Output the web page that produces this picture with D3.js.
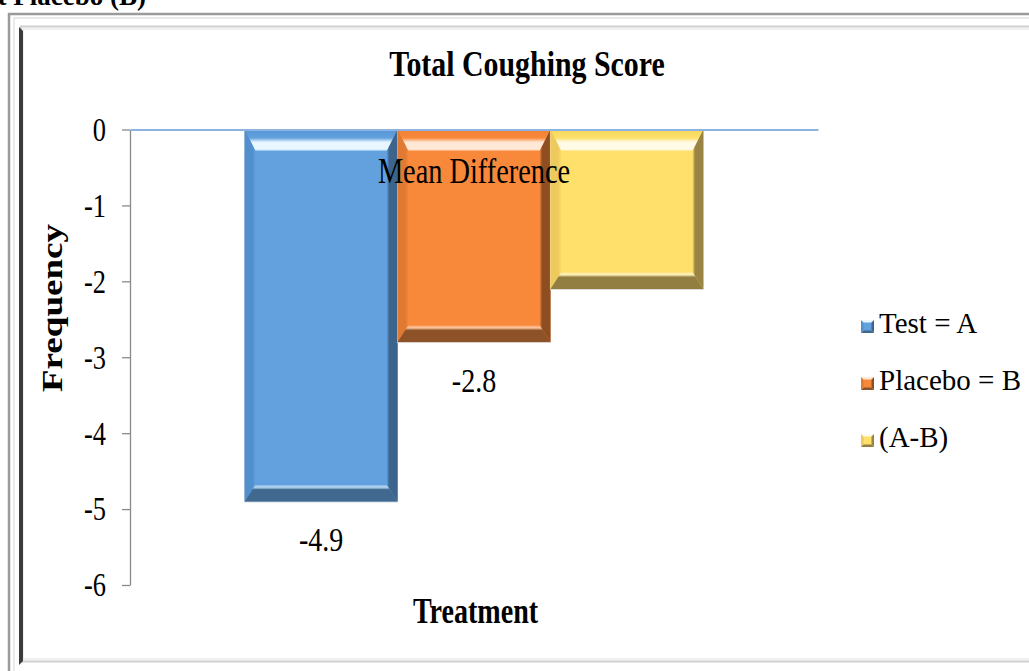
<!DOCTYPE html>
<html>
<head>
<meta charset="utf-8">
<script src="https://cdn.jsdelivr.net/npm/d3@7"></script>
<style>
  html, body { margin: 0; padding: 0; background: #ffffff; }
  svg { display: block; }
  text { font-family: "Liberation Serif", "Times New Roman", serif; fill: #000; }
</style>
</head>
<body>
<svg id="chart" width="1029" height="671"></svg>
<script>
// ---- data ----
const categories = ["Mean Difference"];
const series = ["Test = A", "Placebo = B", "(A-B)"];
const values = [-4.9, -2.8, -2.1];
const valueLabels = ["-4.9", "-2.8", ""];
const yTicks = [0, -1, -2, -3, -4, -5, -6];
const chartTitle = "Total Coughing Score";
const yTitle = "Frequency";
const xTitle = "Treatment";
const clippedHeading = "Test (A) against Placebo (B)";

// ---- styles ----
const palette = [
  { base: "#62A1DE", left: "#5290CD", right: "#3C648C", bottom: "#41698F", edge: "#5796D4", hi: "#E8F7FF" },
  { base: "#F8883A", left: "#E07A33", right: "#8E4E22", bottom: "#8D5227", edge: "#EF8236", hi: "#FFE9D6" },
  { base: "#FEE06A", left: "#EDC95E", right: "#9A8443", bottom: "#927E40", edge: "#F6D65D", hi: "#FFFBE6" }
];

const svg = d3.select("#chart");
const W = 1029, H = 671;

// ---- frame ----
svg.append("rect").attr("x", 9).attr("y", 14).attr("width", W + 50).attr("height", H + 50)
  .attr("fill", "#ffffff").attr("stroke", "#9b9b9b").attr("stroke-width", 2.5);
svg.append("rect").attr("x", 14).attr("y", 18).attr("width", W + 50).attr("height", H + 50)
  .attr("fill", "none").attr("stroke", "#e2e2e2").attr("stroke-width", 1.5);
svg.append("rect").attr("x", 21).attr("y", 26.5).attr("width", W + 50).attr("height", 635)
  .attr("fill", "#ffffff").attr("stroke", "#cfcfcf").attr("stroke-width", 2);
svg.append("rect").attr("x", 23).attr("y", 29).attr("width", W + 50).attr("height", 630)
  .attr("fill", "none").attr("stroke", "#efefef").attr("stroke-width", 2);
svg.append("path").attr("d", "M19,27 L23,31 L23,661 L19,665 Z").attr("fill", "#3c3c3c");

// heading of the page, cut by the top edge as in the source picture
svg.append("text").attr("x", 146).attr("y", 5)
  .attr("text-anchor", "end").attr("font-weight", "bold").attr("font-size", 27)
  .text(clippedHeading);

// ---- scales ----
const plot = { left: 130, right: 818, top: 129.5, bottom: 585 };
const y = d3.scaleLinear().domain([-6, 0]).range([plot.bottom, plot.top]);
const x0 = d3.scaleBand().domain(categories).range([plot.left, plot.right]).padding(0);
const x1 = d3.scaleBand().domain(series).range([0, x0.bandwidth()]).paddingInner(0).paddingOuter(0.75);

// ---- y axis ----
const sxTick = 0.8;
const yAxisG = svg.append("g").attr("transform", `translate(${plot.left},0)`)
  .call(d3.axisLeft(y).tickValues(yTicks).tickFormat(d3.format("d")).tickSize(8).tickSizeOuter(0).tickPadding(16));
yAxisG.select(".domain").attr("stroke", "#8a8a8a").attr("stroke-width", 1.3);
yAxisG.selectAll(".tick line").attr("stroke", "#8a8a8a").attr("stroke-width", 1.3);
yAxisG.selectAll(".tick text")
  .attr("font-family", "Liberation Serif").attr("font-size", 33).attr("fill", "#000")
  .attr("x", -24 / sxTick).attr("transform", `scale(${sxTick},1)`).attr("dy", "0.33em")
  .text(d => d === 0 ? "0" : d3.format("d")(d).replace("−", "-"));

// ---- bars with bevel ----
const defs = svg.append("defs");
palette.forEach((p, i) => {
  const gTop = defs.append("linearGradient").attr("id", "gTop" + i).attr("x1", 0).attr("y1", 0).attr("x2", 0).attr("y2", 1);
  gTop.append("stop").attr("offset", "0%").attr("stop-color", p.edge);
  gTop.append("stop").attr("offset", "38%").attr("stop-color", p.base);
  gTop.append("stop").attr("offset", "58%").attr("stop-color", p.hi);
  gTop.append("stop").attr("offset", "90%").attr("stop-color", p.hi);
  gTop.append("stop").attr("offset", "100%").attr("stop-color", p.base);
  const gL = defs.append("linearGradient").attr("id", "gL" + i).attr("x1", 0).attr("y1", 0).attr("x2", 1).attr("y2", 0);
  gL.append("stop").attr("offset", "0%").attr("stop-color", p.left);
  gL.append("stop").attr("offset", "70%").attr("stop-color", p.left);
  gL.append("stop").attr("offset", "100%").attr("stop-color", p.base);
  const gR = defs.append("linearGradient").attr("id", "gR" + i).attr("x1", 0).attr("y1", 0).attr("x2", 1).attr("y2", 0);
  gR.append("stop").attr("offset", "0%").attr("stop-color", p.base);
  gR.append("stop").attr("offset", "25%").attr("stop-color", p.right);
  gR.append("stop").attr("offset", "100%").attr("stop-color", p.right);
  const gB = defs.append("linearGradient").attr("id", "gB" + i).attr("x1", 0).attr("y1", 0).attr("x2", 0).attr("y2", 1);
  gB.append("stop").attr("offset", "0%").attr("stop-color", p.base);
  gB.append("stop").attr("offset", "15%").attr("stop-color", p.hi).attr("stop-opacity", 0.6);
  gB.append("stop").attr("offset", "30%").attr("stop-color", p.bottom);
  gB.append("stop").attr("offset", "100%").attr("stop-color", p.bottom);
});

const bx = 11, by = 22, bb = 17;
const barData = series.map((s, i) => ({ cat: categories[0], s, v: values[i], i, label: valueLabels[i] }));
const barsG = svg.append("g");
barData.forEach(d => {
  const xa = x0(d.cat) + x1(d.s);
  const xb = xa + x1.bandwidth();
  const ya = y(0);
  const yb = y(d.v);
  const g = barsG.append("g");
  g.append("rect").attr("x", xa - 0.5).attr("y", ya).attr("width", xb - xa + 1).attr("height", yb - ya + 1)
    .attr("fill", "#d8d8d8");
  g.append("rect").attr("x", xa).attr("y", ya).attr("width", xb - xa).attr("height", yb - ya)
    .attr("fill", palette[d.i].base);
  const poly = pts => pts.map(p => p.join(",")).join(" ");
  g.append("polygon").attr("points", poly([[xa, ya], [xb, ya], [xb - bx, ya + by], [xa + bx, ya + by]]))
    .attr("fill", `url(#gTop${d.i})`);
  g.append("polygon").attr("points", poly([[xa, ya], [xa + bx, ya + by], [xa + bx, yb - bb], [xa, yb]]))
    .attr("fill", `url(#gL${d.i})`);
  g.append("polygon").attr("points", poly([[xb, ya], [xb, yb], [xb - bx, yb - bb], [xb - bx, ya + by]]))
    .attr("fill", `url(#gR${d.i})`);
  g.append("polygon").attr("points", poly([[xa, yb], [xa + bx, yb - bb], [xb - bx, yb - bb], [xb, yb]]))
    .attr("fill", `url(#gB${d.i})`);
  if (d.label) {
    g.append("text")
      .attr("transform", `translate(${(xa + xb) / 2},${yb + 50}) scale(0.85,1)`)
      .attr("text-anchor", "middle").attr("font-size", 33).text(d.label);
  }
});

// ---- category axis at zero ----
const xAxisG = svg.append("g").attr("transform", `translate(0,${y(0)})`)
  .call(d3.axisBottom(x0).tickSize(0).tickSizeOuter(0).tickPadding(0));
xAxisG.select(".domain").attr("stroke", "#8DB3E2").attr("stroke-width", 2);
xAxisG.selectAll(".tick text")
  .attr("font-family", "Liberation Serif").attr("font-size", 35).attr("fill", "#000")
  .attr("y", 53.5).attr("dy", 0).attr("transform", "scale(0.81,1)");

// ---- titles ----
svg.append("text").attr("transform", `translate(${(plot.left + plot.right) / 2 + 53},76) scale(0.83,1)`)
  .attr("text-anchor", "middle").attr("font-weight", "bold").attr("font-size", 36).text(chartTitle);
svg.append("text").attr("transform", `translate(${(plot.left + plot.right) / 2 + 1.5},623) scale(0.78,1)`)
  .attr("text-anchor", "middle").attr("font-weight", "bold").attr("font-size", 36).text(xTitle);
svg.append("text").attr("transform", `translate(62,308) rotate(-90) scale(1.03,0.8)`)
  .attr("text-anchor", "middle").attr("font-weight", "bold").attr("font-size", 36).text(yTitle);

// ---- legend ----
const legend = svg.append("g").attr("transform", "translate(861,0)");
const legendY = d3.scalePoint().domain(series).range([333, 447]);
series.forEach((s, i) => {
  const p = palette[i];
  const ly = legendY(s);
  const g = legend.append("g").attr("transform", `translate(0,${ly - 13})`);
  const a = 13, c = 6.5;
  g.append("polygon").attr("points", `0,0 ${a},0 ${c},${c}`).attr("fill", p.hi);
  g.append("polygon").attr("points", `0,0 ${c},${c} 0,${a}`).attr("fill", p.left);
  g.append("polygon").attr("points", `${a},0 ${a},${a} ${c},${c}`).attr("fill", p.right);
  g.append("polygon").attr("points", `0,${a} ${c},${c} ${a},${a}`).attr("fill", p.bottom);
  g.append("rect").attr("x", 2.5).attr("y", 2.5).attr("width", 8).attr("height", 8).attr("fill", p.base);
  legend.append("text").attr("x", 18).attr("y", ly).attr("font-size", 29).text(s);
});
</script>
</body>
</html>
